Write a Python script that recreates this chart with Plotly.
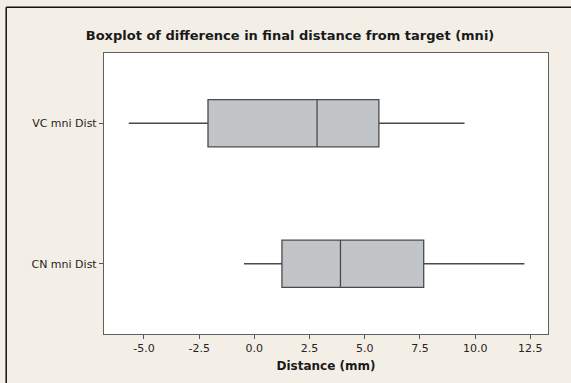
import plotly.graph_objects as go

categories = ["CN mni Dist", "VC mni Dist"]
lower_whisker = [-0.47, -5.69]
q1_values = [1.25, -2.10]
median_values = [3.90, 2.84]
q3_values = [7.67, 5.64]
upper_whisker = [12.23, 9.52]
x_ticks = [-5.0, -2.5, 0.0, 2.5, 5.0, 7.5, 10.0, 12.5]
x_tick_labels = ["-5.0", "-2.5", "0.0", "2.5", "5.0", "7.5", "10.0", "12.5"]

BG = "#f3efe7"
FONT = "DejaVu Sans"

fig = go.Figure()
fig.add_trace(go.Box(
    y=categories,
    q1=q1_values,
    median=median_values,
    q3=q3_values,
    lowerfence=lower_whisker,
    upperfence=upper_whisker,
    orientation="h",
    fillcolor="#c2c5c8",
    line=dict(color="#4a4a4a", width=1.3),
    whiskerwidth=0,
    width=0.336,
    boxpoints=False,
    hoverinfo="skip",
    showlegend=False,
))

W, H = 571, 383
L, R, T, B = 104.3, 22.7, 52.7, 49
pw = W - L - R
ph = H - T - B

def px_x(p):
    return (p - L) / pw

def px_y(p):
    return (H - B - p) / ph

fig.add_shape(type="line", xref="paper", yref="paper",
              x0=px_x(6.5), x1=px_x(W + 5), y0=px_y(7), y1=px_y(7),
              line=dict(color="#111111", width=1.5))
fig.add_shape(type="line", xref="paper", yref="paper",
              x0=px_x(6.5), x1=px_x(6.5), y0=px_y(7), y1=px_y(H + 5),
              line=dict(color="#111111", width=1.5))

fig.update_layout(
    width=W, height=H,
    margin=dict(l=L, r=R, t=T, b=B),
    paper_bgcolor=BG,
    plot_bgcolor="white",
    font=dict(family=FONT, color="#2a2222", size=11),
    title=dict(text="<b>Boxplot of difference in final distance from target (mni)</b>",
               x=(86 + 494) / 2 / W, xanchor="center",
               y=1 - 35 / H, yanchor="middle",
               font=dict(family=FONT, size=13, color="#1a1a1a")),
    xaxis=dict(
        range=[-6.81, 13.30],
        tickvals=x_ticks, ticktext=x_tick_labels,
        ticks="outside", ticklen=4, tickcolor="#555555",
        showgrid=False, zeroline=False,
        showline=True, linecolor="#5f5f5f", linewidth=1.2, mirror=True,
        title=dict(text="<b>Distance (mm)</b>", font=dict(family=FONT, size=12, color="#1a1a1a"), standoff=7),
        tickfont=dict(family=FONT, size=11, color="#2a2222"),
    ),
    yaxis=dict(
        type="category",
        categoryorder="array", categoryarray=categories,
        range=[-0.5, 1.5],
        ticks="outside", ticklen=4, tickcolor="#555555",
        showgrid=False, zeroline=False,
        showline=True, linecolor="#5f5f5f", linewidth=1.2, mirror=True,
        tickfont=dict(family=FONT, size=11, color="#2a2222"),
    ),
)

fig.write_html("out.html")
